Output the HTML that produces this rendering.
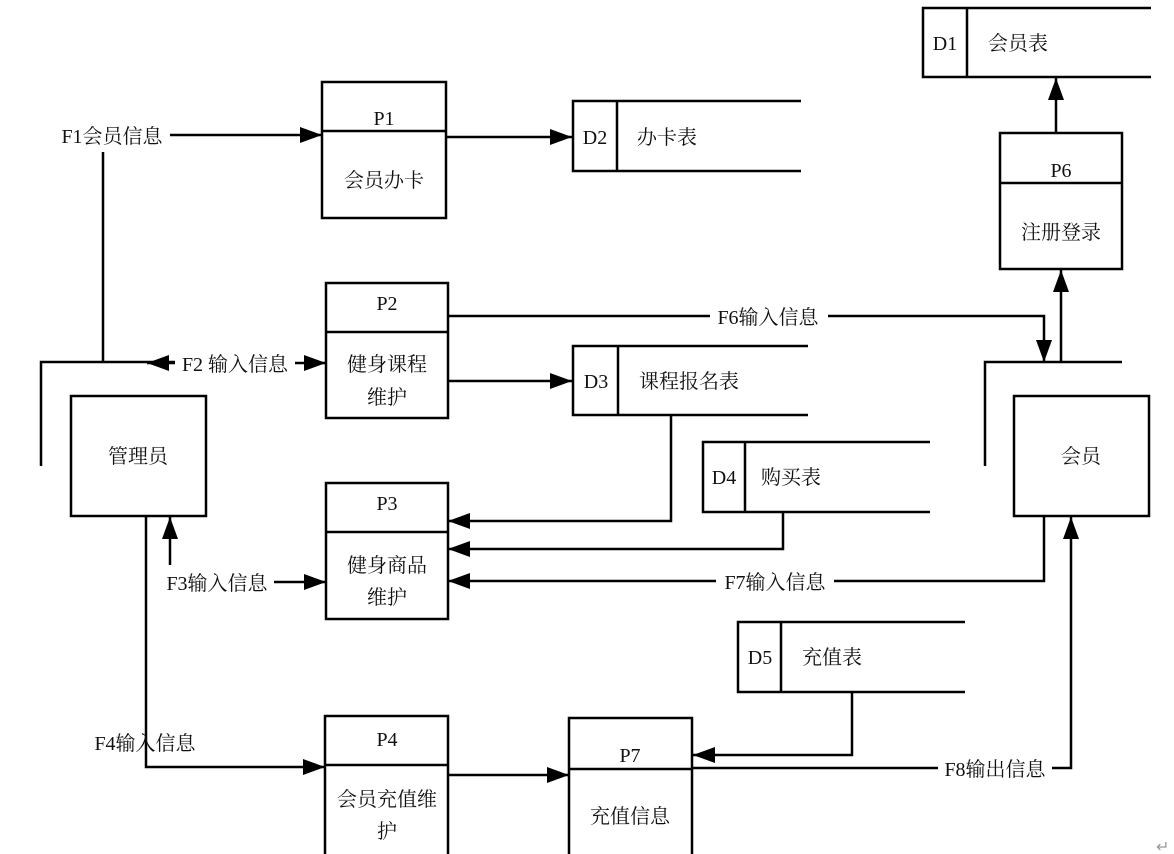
<!DOCTYPE html>
<html><head><meta charset="utf-8"><style>
html,body{margin:0;padding:0;background:#fff;}
svg{display:block;}
text{font-family:"Liberation Serif","Noto Serif CJK SC",serif;font-size:20px;fill:#111;}
</style></head><body>
<svg width="1174" height="854" viewBox="0 0 1174 854" xmlns="http://www.w3.org/2000/svg">
<defs>
<marker id="a" markerUnits="userSpaceOnUse" markerWidth="24" markerHeight="18" refX="22" refY="9" orient="auto">
<polygon points="0,1 22,9 0,17" fill="#000"/>
</marker>
</defs>
<g stroke="#000" stroke-width="2.5" fill="none">
<!-- processes -->
<rect x="322" y="82" width="124" height="136"/><line x1="322" y1="131" x2="446" y2="131"/>
<rect x="326" y="283" width="122" height="135"/><line x1="326" y1="332" x2="448" y2="332"/>
<rect x="326" y="483" width="122" height="136"/><line x1="326" y1="532" x2="448" y2="532"/>
<rect x="325" y="716" width="123" height="142"/><line x1="325" y1="765" x2="448" y2="765"/>
<rect x="569" y="718" width="123" height="140"/><line x1="569" y1="769" x2="692" y2="769"/>
<rect x="1000" y="133" width="122" height="136"/><line x1="1000" y1="183" x2="1122" y2="183"/>
<!-- entities -->
<rect x="71" y="396" width="135" height="120"/>
<rect x="1014" y="396" width="135" height="120"/>
<polyline points="41,466 41,362 175,362"/>
<polyline points="985,466 985,362 1122,362"/>
<!-- data stores -->
<polyline points="1151,8 923,8 923,77 1151,77"/><line x1="967" y1="8" x2="967" y2="77"/>
<polyline points="801,101 573,101 573,171 801,171"/><line x1="617" y1="101" x2="617" y2="171"/>
<polyline points="808,346 573,346 573,415 808,415"/><line x1="618" y1="346" x2="618" y2="415"/>
<polyline points="930,442 703,442 703,512 930,512"/><line x1="745" y1="442" x2="745" y2="512"/>
<polyline points="965,622 738,622 738,692 965,692"/><line x1="781" y1="622" x2="781" y2="692"/>
<!-- flows -->
<line x1="103" y1="152" x2="103" y2="362"/>
<line x1="170" y1="135" x2="322" y2="135" marker-end="url(#a)"/>
<line x1="446" y1="137" x2="572" y2="137" marker-end="url(#a)"/>
<line x1="175" y1="363" x2="147" y2="363" marker-end="url(#a)"/>
<line x1="295" y1="363" x2="326" y2="363" marker-end="url(#a)"/>
<line x1="448" y1="381" x2="572" y2="381" marker-end="url(#a)"/>
<polyline points="448,316 1044,316 1044,362" marker-end="url(#a)"/>
<line x1="1061" y1="362" x2="1061" y2="270" marker-end="url(#a)"/>
<line x1="1056" y1="133" x2="1056" y2="78" marker-end="url(#a)"/>
<polyline points="671,415 671,521 448,521" marker-end="url(#a)"/>
<polyline points="783,512 783,549 448,549" marker-end="url(#a)"/>
<polyline points="1044,516 1044,581 448,581" marker-end="url(#a)"/>
<line x1="170" y1="565" x2="170" y2="517" marker-end="url(#a)"/>
<line x1="274" y1="582" x2="326" y2="582" marker-end="url(#a)"/>
<polyline points="146,516 146,767 325,767" marker-end="url(#a)"/>
<line x1="448" y1="775" x2="569" y2="775" marker-end="url(#a)"/>
<polyline points="852,692 852,755 693,755" marker-end="url(#a)"/>
<polyline points="692,768 1071,768 1071,517" marker-end="url(#a)"/>
</g>
<!-- label backgrounds -->
<g fill="#fff">
<rect x="710" y="304" width="118" height="24"/>
<rect x="716" y="569" width="118" height="24"/>
<rect x="938" y="756" width="114" height="24"/>
</g>
<g text-anchor="middle">
<text x="384" y="125">P1</text><text x="384" y="187">会员办卡</text>
<text x="387" y="310">P2</text><text x="387" y="371">健身课程</text><text x="387" y="404">维护</text>
<text x="387" y="510">P3</text><text x="387" y="572">健身商品</text><text x="387" y="604">维护</text>
<text x="387" y="746">P4</text><text x="387" y="806">会员充值维</text><text x="387" y="838">护</text>
<text x="630" y="762">P7</text><text x="630" y="823">充值信息</text>
<text x="1061" y="177">P6</text><text x="1061" y="239">注册登录</text>
<text x="138" y="463">管理员</text>
<text x="1081" y="463">会员</text>
<text x="945" y="50">D1</text><text x="1018" y="50">会员表</text>
<text x="595" y="144">D2</text><text x="667" y="144">办卡表</text>
<text x="596" y="388">D3</text><text x="689" y="388">课程报名表</text>
<text x="724" y="484">D4</text><text x="791" y="484">购买表</text>
<text x="760" y="664">D5</text><text x="832" y="664">充值表</text>
<text x="112" y="143">F1会员信息</text>
<text x="235" y="371">F2 输入信息</text>
<text x="768" y="324">F6输入信息</text>
<text x="775" y="589">F7输入信息</text>
<text x="217" y="590">F3输入信息</text>
<text x="145" y="750">F4输入信息</text>
<text x="995" y="776">F8输出信息</text>
</g>
<text x="1156" y="852" style="font-size:16px;fill:#999">↵</text>
</svg>
</body></html>
